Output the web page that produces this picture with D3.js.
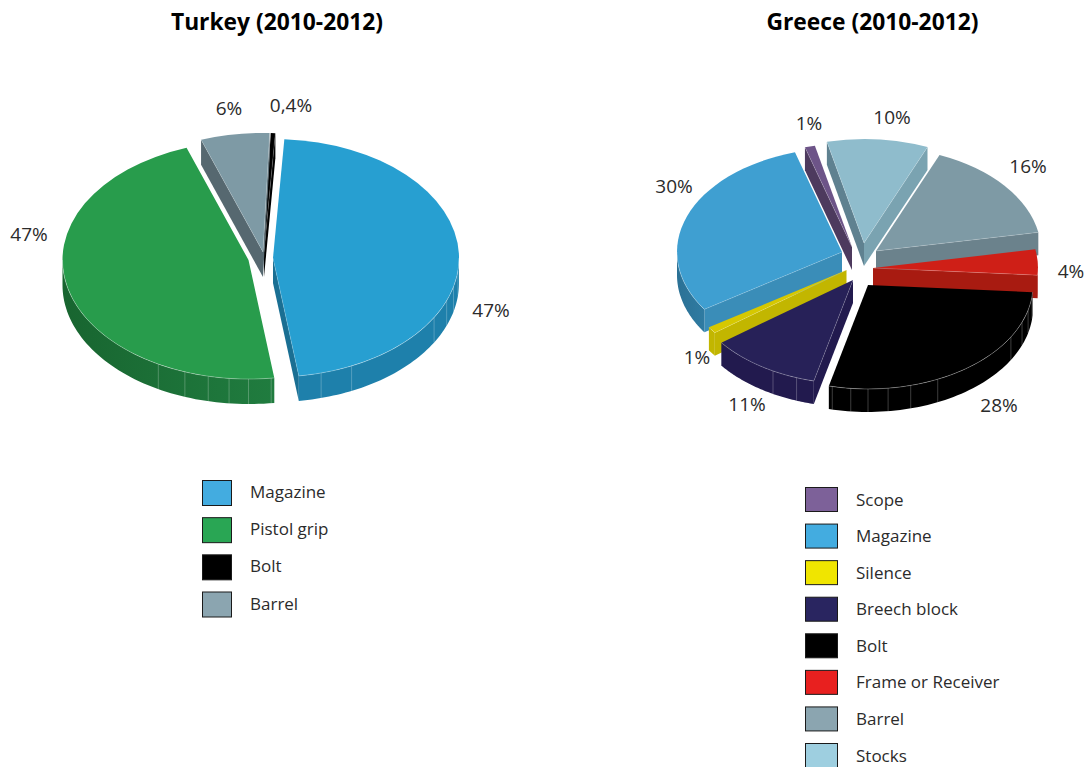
<!DOCTYPE html>
<html>
<head>
<meta charset="utf-8">
<script src="https://cdn.jsdelivr.net/npm/d3@7/dist/d3.min.js"></script>
<style>
  html, body { margin: 0; padding: 0; background: #fff; }
  svg { display: block; }
  text { font-family: "Open Sans", "Noto Sans", sans-serif; fill: #2b2b2b; }
</style>
</head>
<body>
<svg id="chart" width="1090" height="767"></svg>
<script>
// Turkey: parts in legend order and their shares in percent
const turkeyParts = ["Magazine", "Pistol grip", "Bolt", "Barrel"];
const turkeyShares = [47, 47, 0.4, 6];
const turkeyRing = ["Magazine", "Pistol grip", "Barrel", "Bolt"];

// Greece: parts in legend order and their shares in percent
const greeceParts = ["Scope", "Magazine", "Silence", "Breech block", "Bolt", "Frame or Receiver", "Barrel", "Stocks"];
const greeceShares = [1, 30, 1, 11, 28, 4, 16, 10];
const greeceRing = ["Stocks", "Barrel", "Frame or Receiver", "Bolt", "Breech block", "Silence", "Magazine", "Scope"];

// Angles (degrees clockwise from north) where the rim facets meet
const rimSeams = [96, 104, 111, 120, 155, 165, 173, 180, 186, 192.5, 200, 209];

const rad = d => d * Math.PI / 180;
const TAU = 2 * Math.PI;

// Shading for each part: legend swatch, top face, rim (left to right), cut faces
const partStyles = {
  Turkey: {
    "Magazine":    { key: "#43ace0", top: "#279fd1", rim: ["#1e80ab", "#1e80ab"], cut: "#1a6f93" },
    "Pistol grip": { key: "#29a654", top: "#289c4c", rim: ["#186530", "#207c3f"], cut: "#186530" },
    "Bolt":        { key: "#000000", top: "#000000", rim: ["#000000", "#000000"], cut: "#000000" },
    "Barrel":      { key: "#8ba5b0", top: "#7e9aa5", rim: ["#566870", "#566870"], cut: "#566870" }
  },
  Greece: {
    "Scope":             { key: "#7d6199", top: "#6d5488", rim: ["#4d3a5e", "#4d3a5e"], cut: "#4d3a5e" },
    "Magazine":          { key: "#43ace0", top: "#3f9fd1", rim: ["#2b7195", "#2f7ba2"], cut: "#3a8db8" },
    "Silence":           { key: "#f0e500", top: "#d6c800", rim: ["#c2b600", "#c2b600"], cut: "#c2b600" },
    "Breech block":      { key: "#292560", top: "#272158", rim: ["#221a4e", "#221a4e"], cut: "#221a4e" },
    "Bolt":              { key: "#000000", top: "#000000", rim: ["#000000", "#000000"], cut: "#000000" },
    "Frame or Receiver": { key: "#e8201f", top: "#cf1f17", rim: ["#a81b11", "#a81b11"], cut: "#a81b11" },
    "Barrel":            { key: "#8ba5b0", top: "#7e9aa5", rim: ["#6b828c", "#6b828c"], cut: "#6b828c" },
    "Stocks":            { key: "#9ecfe0", top: "#8fbccc", rim: ["#5f8190", "#5f8190"], cut: "#5f8190", cutEnd: "#7aa3b1" }
  }
};

// Layout of both pies: projection, how far each slice is pulled out, label anchors, legend
const layouts = [
  {
    name: "Turkey", title: "Turkey (2010-2012)", titleX: 277, parts: turkeyParts, shares: turkeyShares, ring: turkeyRing,
    cx: 262, cy: 258, rx: 186, tilt: 0.64, depth: 25, start: 3.5,
    pull: { "Magazine": [11, 0], "Pistol grip": [-13.5, 2], "Bolt": [2, -6], "Barrel": [1, -6] },
    labels: { "Magazine": [491, 310], "Pistol grip": [29, 234], "Barrel": [229, 108], "Bolt": [291, 105] },
    keyX: 202, keyW: 29, keyH: 25, textX: 250, textDy: -1, rowY: d3.scaleLinear().domain([0, 3]).range([492.5, 604])
  },
  {
    name: "Greece", title: "Greece (2010-2012)", titleX: 872.5, parts: greeceParts, shares: greeceShares, ring: greeceRing,
    cx: 860, cy: 265, rx: 165, tilt: 0.63, depth: 23, start: 347,
    pull: {
      "Stocks": [4, -22], "Barrel": [16, -14], "Frame or Receiver": [13, 3], "Bolt": [8, 20],
      "Breech block": [-7, 15], "Silence": [-13.5, 5], "Magazine": [-18, -13], "Scope": [-8, -18]
    },
    labels: {
      "Scope": [809, 123], "Stocks": [892, 117], "Barrel": [1028, 166], "Frame or Receiver": [1071, 271],
      "Bolt": [999, 405], "Breech block": [747, 404], "Silence": [697, 357], "Magazine": [674, 186]
    },
    keyX: 805, keyW: 32, keyH: 24, textX: 856, textDy: 0, rowY: d3.scaleLinear().domain([0, 7]).range([499, 755])
  }
];

const svg = d3.select("#chart");
const defs = svg.append("defs");
const line = d3.line();
const percent = v => String(v).replace(".", ",") + "%";

layouts.forEach(cfg => {
  const styles = partStyles[cfg.name];
  const share = part => cfg.shares[cfg.parts.indexOf(part)];
  const ringOrder = new Map(cfg.ring.map((p, i) => [p, i]));

  const pie = d3.pie()
    .value(d => share(d))
    .sort((a, b) => ringOrder.get(a) - ringOrder.get(b))
    .startAngle(rad(cfg.start))
    .endAngle(rad(cfg.start) + TAU);
  const faceArc = d3.arc().innerRadius(0).outerRadius(cfg.rx);

  // Slices further back are painted first so nearer ones can overlap them
  const slices = pie(cfg.ring)
    .map(d => ({ ...d, mid: (d.startAngle + d.endAngle) / 2 }))
    .sort((a, b) => Math.cos(b.mid) - Math.cos(a.mid));

  const root = svg.append("g").attr("class", "pie-" + cfg.name);

  slices.forEach((s, idx) => {
    const st = styles[s.data];
    const [px, py] = cfg.pull[s.data];
    const ox = cfg.cx + px, oy = cfg.cy + py;
    const rimPt = (t, drop = 0) => [ox + cfg.rx * Math.sin(t), oy - cfg.rx * cfg.tilt * Math.cos(t) + drop];
    const apex = [ox, oy];
    const below = [ox, oy + cfg.depth];
    const g = root.append("g");

    const cuts = [
      { t: s.startAngle, show: Math.sin(s.startAngle) < 0, fill: st.cut },
      { t: s.endAngle, show: Math.sin(s.endAngle) > 0, fill: st.cutEnd || st.cut }
    ].filter(c => c.show);

    // Cut faces that turn towards the viewer
    cuts.forEach(c => {
      g.append("path")
        .attr("d", line([apex, rimPt(c.t), rimPt(c.t, cfg.depth), below]) + "Z")
        .attr("fill", c.fill);
    });

    // Curved rim along the front half of the ellipse; angles may run past a full turn
    const turn = s.startAngle >= TAU ? TAU : (s.endAngle > TAU + Math.PI / 2 ? TAU : 0);
    const from = Math.max(s.startAngle, turn + Math.PI / 2);
    const to = Math.min(s.endAngle, turn + Math.PI * 1.5);
    const rimAngles = to > from ? d3.range(0, 61).map(i => from + (to - from) * i / 60) : [];
    if (rimAngles.length) {
      const outline = rimAngles.map(t => rimPt(t))
        .concat(rimAngles.slice().reverse().map(t => rimPt(t, cfg.depth)));
      const gradId = "rim-" + cfg.name + "-" + idx;
      const grad = defs.append("linearGradient").attr("id", gradId);
      grad.append("stop").attr("offset", "0%").attr("stop-color", st.rim[0]);
      grad.append("stop").attr("offset", "100%").attr("stop-color", st.rim[1]);
      g.append("path").attr("d", line(outline) + "Z").attr("fill", `url(#${gradId})`);

      rimSeams.map(a => rad(a) + turn).filter(t => t > from + 0.005 && t < to - 0.005).forEach(t => {
        g.append("line")
          .attr("x1", rimPt(t)[0]).attr("y1", rimPt(t)[1])
          .attr("x2", rimPt(t, cfg.depth)[0]).attr("y2", rimPt(t, cfg.depth)[1])
          .attr("stroke", "#fff").attr("stroke-opacity", 0.3).attr("stroke-width", 0.8);
      });
    }

    // Top face: a circular arc squashed into the pie's tilt
    g.append("path")
      .attr("d", faceArc({ startAngle: s.startAngle, endAngle: s.endAngle }))
      .attr("transform", `translate(${ox},${oy}) scale(1,${cfg.tilt})`)
      .attr("fill", st.top);

    // Light hairlines where the visible walls meet the top face
    cuts.forEach(c => {
      g.append("path")
        .attr("d", line([apex, rimPt(c.t)]))
        .attr("fill", "none").attr("stroke", "#fff").attr("stroke-opacity", 0.25).attr("stroke-width", 0.7);
    });
    if (rimAngles.length) {
      g.append("path")
        .attr("d", line(rimAngles.map(t => rimPt(t))))
        .attr("fill", "none").attr("stroke", "#fff").attr("stroke-opacity", 0.4).attr("stroke-width", 0.7);
    }
  });

  // Value labels
  root.selectAll("text.value")
    .data(cfg.ring)
    .join("text")
    .attr("class", "value")
    .attr("x", d => cfg.labels[d][0])
    .attr("y", d => cfg.labels[d][1])
    .attr("text-anchor", "middle")
    .attr("dominant-baseline", "central")
    .attr("font-size", 19)
    .text(d => percent(share(d)));

  // Title
  svg.append("text")
    .attr("x", cfg.titleX).attr("y", 30)
    .attr("text-anchor", "middle")
    .attr("font-size", 22.8).attr("font-weight", 700)
    .style("fill", "#000")
    .text(cfg.title);

  // Legend
  const legend = svg.append("g").attr("class", "legend-" + cfg.name);
  const rows = legend.selectAll("g").data(cfg.parts).join("g")
    .attr("transform", (d, i) => `translate(0,${cfg.rowY(i)})`);
  rows.append("rect")
    .attr("x", cfg.keyX + 0.5).attr("y", -cfg.keyH / 2 + 0.5)
    .attr("width", cfg.keyW).attr("height", cfg.keyH)
    .attr("fill", d => styles[d].key)
    .attr("stroke", "#1a1a1a").attr("stroke-width", 1);
  rows.append("text")
    .attr("x", cfg.textX).attr("y", cfg.textDy)
    .attr("dominant-baseline", "central")
    .attr("font-size", 17)
    .text(d => d);
});
</script>
</body>
</html>
